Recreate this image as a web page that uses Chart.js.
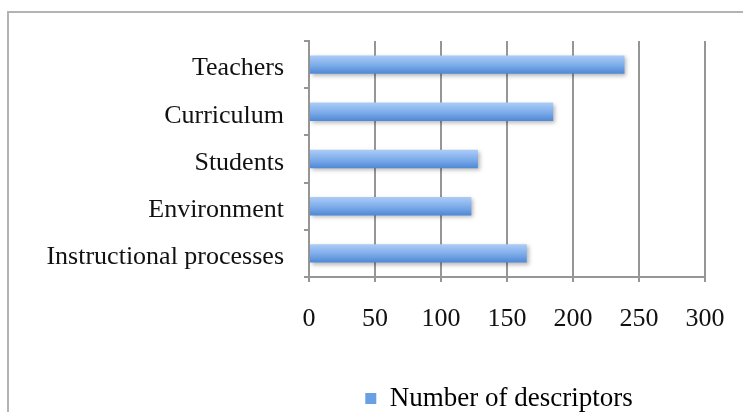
<!DOCTYPE html>
<html lang="en">
<head>
<meta charset="utf-8"/>
<title>Number of descriptors</title>
<script src="https://cdn.jsdelivr.net/npm/chart.js"></script>
<style>
    html, body { margin: 0; padding: 0; background: #fff; }
    body { width: 743px; height: 412px; overflow: hidden; position: relative; }
    .frame { position: absolute; left: 7px; top: 11px; width: 800px; height: 500px; border: 2px solid #b3b3b3; }
    #bar-chart { position: absolute; left: 0; top: 0; }
  </style>
</head>
<body>
<div class="frame"></div>
<canvas id="bar-chart" width="743" height="430"></canvas>
<script>
    const categories = ['Teachers', 'Curriculum', 'Students', 'Environment', 'Instructional processes'];
    const descriptors = [239, 185, 128, 123, 165];
    const xTicks = [0, 50, 100, 150, 200, 250, 300];

    const gridGray = '#969696';
    const family = "'Liberation Serif', 'Times New Roman', serif";
    const labelFont = { family: family, size: 26 };
    const legendFont = { family: family, size: 27 };

    // vertical gradient per bar, light on top and darker at the bottom
    function barFill(context) {
      const chart = context.chart;
      const yScale = chart.scales.y;
      if (!chart.chartArea || !yScale) return '#7aaae9';
      const y = yScale.getPixelForValue(context.dataIndex);
      const band = Math.abs(yScale.getPixelForValue(1) - yScale.getPixelForValue(0));
      const h = band * 0.39 / 2;
      const g = chart.ctx.createLinearGradient(0, y - h, 0, y + h);
      g.addColorStop(0, '#acccf7');
      g.addColorStop(0.5, '#80aeeb');
      g.addColorStop(1, '#4f88d5');
      return g;
    }

    // soft drop shadow under the bars
    const barShadow = {
      id: 'barShadow',
      beforeDatasetsDraw(chart) {
        const ctx = chart.ctx;
        ctx.save();
        ctx.shadowColor = 'rgba(0,0,0,0.28)';
        ctx.shadowBlur = 4;
        ctx.shadowOffsetX = 2;
        ctx.shadowOffsetY = 2;
      },
      afterDatasetsDraw(chart) {
        chart.ctx.restore();
      }
    };

    // legend sits under the plot area, nudged a little to the left
    const legendNudge = {
      id: 'legendNudge',
      afterLayout(chart) {
        chart.legend.left -= 8;
        chart.legend.right -= 8;
      }
    };

    Chart.defaults.font.family = family;
    Chart.defaults.color = '#111';

    new Chart(document.getElementById('bar-chart').getContext('2d'), {
      type: 'bar',
      data: {
        labels: categories,
        datasets: [{
          label: 'Number of descriptors',
          data: descriptors,
          backgroundColor: barFill,
          borderWidth: 0,
          categoryPercentage: 1,
          barPercentage: 0.39
        }]
      },
      options: {
        indexAxis: 'y',
        responsive: false,
        animation: false,
        layout: { padding: { left: 30, right: 38, top: 41, bottom: 8 } },
        plugins: {
          tooltip: { enabled: false },
          legend: {
            position: 'bottom',
            fullSize: false,
            labels: {
              font: legendFont,
              color: '#111',
              boxWidth: 11,
              boxHeight: 11,
              padding: 10,
              generateLabels: chart => [{
                text: chart.data.datasets[0].label,
                fillStyle: '#6a9fe4',
                strokeStyle: '#6a9fe4',
                lineWidth: 0,
                datasetIndex: 0
              }]
            }
          }
        },
        scales: {
          x: {
            min: 0,
            max: 300,
            afterBuildTicks: scale => { scale.ticks = xTicks.map(v => ({ value: v })); },
            // tick padding would otherwise widen the right margin
            afterFit: scale => { scale.height = 98; scale.paddingRight = 0; },
            grid: { color: gridGray, lineWidth: 2, tickLength: 5 },
            border: { color: gridGray, width: 2 },
            ticks: { font: labelFont, color: '#111', padding: 22 }
          },
          y: {
            afterFit: scale => { scale.width = 279; },
            grid: { drawOnChartArea: false, color: gridGray, lineWidth: 2, tickLength: 5 },
            border: { color: gridGray, width: 2 },
            ticks: { font: labelFont, color: '#111', padding: 20, labelOffset: 4 }
          }
        }
      },
      plugins: [barShadow, legendNudge]
    });
  </script>
</body>
</html>
